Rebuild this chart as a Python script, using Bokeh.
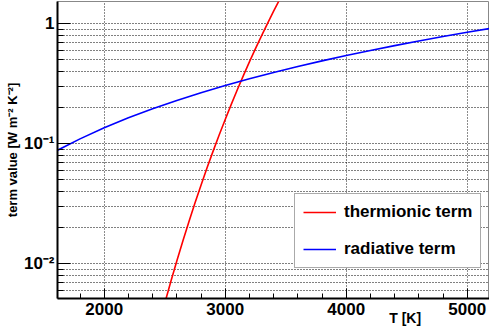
from bokeh.plotting import figure
from bokeh.models import Range1d, FixedTicker, Legend, LegendItem, LinearAxis
from bokeh.embed import file_html
from bokeh.resources import INLINE

# radiative term (blue)
T_rad = [1600, 1800, 2000, 2200, 2400, 2600, 2800, 3000, 3200, 3400,
         3600, 3800, 4000, 4200, 4400, 4600, 4800, 5000, 5200]
rad = [0.087, 0.110, 0.136, 0.165, 0.196, 0.230, 0.267, 0.306, 0.348, 0.393,
       0.441, 0.491, 0.544, 0.600, 0.658, 0.719, 0.783, 0.850, 0.919]

# thermionic term (red)
T_th = [2400, 2450, 2500, 2550, 2600, 2650, 2700, 2750, 2800, 2850, 2900, 2950,
        3000, 3050, 3100, 3150, 3200, 3250, 3300, 3350, 3400, 3450, 3500]
th = [0.00194, 0.00303, 0.00468, 0.00709, 0.01056, 0.01551, 0.02246, 0.03209,
      0.04524, 0.06307, 0.0869, 0.1184, 0.1597, 0.2133, 0.2822, 0.3702, 0.4815,
      0.6211, 0.7949, 1.010, 1.274, 1.597, 1.989]

x_ticks = [2000, 3000, 4000, 5000]
x_minor = [1600, 1800, 2000, 2200, 2400, 2600, 2800, 3000, 3200, 3400, 3600,
           3800, 4000, 4200, 4400, 4600, 4800, 5000, 5200]
y_ticks = [0.01, 0.1, 1]
y_minor = [0.006, 0.007, 0.008, 0.009,
           0.02, 0.03, 0.04, 0.05, 0.06, 0.07, 0.08, 0.09,
           0.2, 0.3, 0.4, 0.5, 0.6, 0.7, 0.8, 0.9]
y_labels = {0.01: "10⁻²", 0.1: "10⁻¹", 1: "1"}
x_title = "T [K]"
y_title = "term value [W m⁻² K⁻²]"

FONT = "Liberation Sans"

p = figure(width=489, height=333, y_axis_type="log",
           x_range=Range1d(1614, 5184), y_range=Range1d(0.00514, 1.535),
           output_backend="svg", toolbar_location=None,
           min_border_left=57, min_border_right=0, min_border_top=1,
           min_border_bottom=35)
p.background_fill_color = "white"
p.border_fill_color = "white"
p.outline_line_color = "#888888"
p.outline_line_width = 1

r1 = p.line(T_th, th, line_color="#ff0000", line_width=1.6)
r2 = p.line(T_rad, rad, line_color="#0000ff", line_width=1.6)

# x axis
xa = p.xaxis[0]
xa.ticker = FixedTicker(ticks=x_ticks, minor_ticks=x_minor)
xa.axis_line_color = "black"
xa.axis_line_width = 2
xa.major_tick_in = 10
xa.major_tick_out = 0
xa.minor_tick_in = 5
xa.minor_tick_out = 0
xa.major_tick_line_color = "black"
xa.minor_tick_line_color = "black"
xa.major_label_text_font = FONT
xa.major_label_text_font_style = "bold"
xa.major_label_text_font_size = "17px"
xa.major_label_text_color = "black"
xa.major_label_standoff = 4

# x axis title, right-aligned below the axis (as a second, bare axis)
xt = LinearAxis(ticker=FixedTicker(ticks=[4487]),
                major_label_overrides={4487: x_title})
xt.axis_line_color = None
xt.major_tick_line_color = None
xt.minor_tick_line_color = None
xt.major_tick_in = 0
xt.major_tick_out = 0
xt.minor_tick_in = 0
xt.minor_tick_out = 0
xt.major_label_standoff = -8
xt.major_label_text_font = FONT
xt.major_label_text_font_style = "bold"
xt.major_label_text_font_size = "14px"
xt.major_label_text_color = "black"
p.add_layout(xt, "below")

# y axis
ya = p.yaxis[0]
ya.ticker = FixedTicker(ticks=y_ticks, minor_ticks=y_minor)
ya.major_label_overrides = y_labels
ya.axis_line_color = "black"
ya.axis_line_width = 2
ya.major_tick_in = 13
ya.major_tick_out = 0
ya.minor_tick_in = 6
ya.minor_tick_out = 0
ya.major_tick_line_color = "black"
ya.minor_tick_line_color = "black"
ya.major_label_text_font = FONT
ya.major_label_text_font_style = "bold"
ya.major_label_text_font_size = "17px"
ya.major_label_text_color = "black"
ya.major_label_standoff = 3
ya.axis_label = y_title
ya.axis_label_text_font = FONT
ya.axis_label_text_font_style = "bold"
ya.axis_label_text_font_size = "13px"
ya.axis_label_text_color = "black"
ya.axis_label_standoff = 1

# grids
p.xgrid.grid_line_color = "black"
p.xgrid.grid_line_alpha = 0.9
p.xgrid.grid_line_dash = "1 2"
p.xgrid.grid_line_width = 1
p.ygrid.grid_line_color = "black"
p.ygrid.grid_line_alpha = 1.0
p.ygrid.grid_line_dash = "1 2"
p.ygrid.minor_grid_line_color = "black"
p.ygrid.minor_grid_line_alpha = 1.0
p.ygrid.minor_grid_line_dash = "1 2"

legend = Legend(items=[LegendItem(label="thermionic term", renderers=[r1]),
                       LegendItem(label="radiative term", renderers=[r2])],
                location=(237, 30))
legend.label_text_font = FONT
legend.label_text_font_style = "bold"
legend.label_text_font_size = "17px"
legend.label_text_color = "black"
legend.glyph_width = 33
legend.glyph_height = 20
legend.label_height = 20
legend.label_standoff = 8
legend.spacing = 17
legend.padding = 8
legend.margin = 0
legend.border_line_color = "#555555"
legend.border_line_width = 1.5
legend.background_fill_color = "white"
legend.background_fill_alpha = 1
p.add_layout(legend)

open("out.html", "w").write(file_html(p, INLINE))
